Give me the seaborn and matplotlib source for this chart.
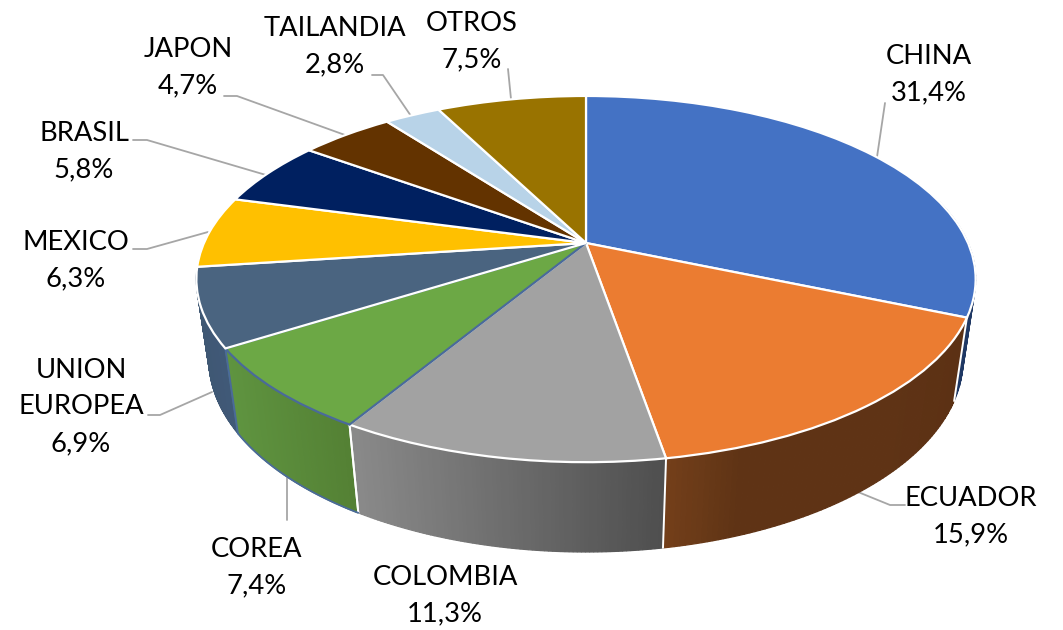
import numpy as np
import seaborn as sns
import matplotlib.pyplot as plt
import matplotlib.transforms as mtransforms
from matplotlib.colors import to_rgb

sns.set_theme(style="white")
plt.rcParams["font.family"] = ["Lato", "DejaVu Sans"]

paises = ["CHINA", "ECUADOR", "COLOMBIA", "COREA", "UNION\nEUROPEA", "MEXICO", "BRASIL", "JAPON", "TAILANDIA", "OTROS"]
valores = [31.4, 15.9, 11.3, 7.4, 6.9, 6.3, 5.8, 4.7, 2.8, 7.5]
colores = ["#4472C4", "#EB7C31", "#A2A2A2", "#6CA845", "#4A6480", "#FFC000", "#002060", "#633300", "#B8D3E8", "#997300"]

# side wall colours, left to right
paredes = {0: ["#1f3864", "#1f3864"], 1: ["#74401a", "#5f3315", "#5f3315", "#5f3315", "#5c3114"],
           2: ["#8a8a8a", "#4e4e4e"], 3: ["#5f9440", "#537f33"], 4: ["#3f5873", "#41597a"]}

# label centres and leader lines, in pixels
pos_etiquetas = [(929, 75), (971, 517), (445, 596), (257, 568), (81, 407), (76, 261), (84, 152), (188, 68), (335, 47), (472, 42)]
lineas = [[(885, 103), (877, 157)], [(905, 505), (890, 505), (858, 492)], [], [(287, 478), (287, 520)],
          [(148, 415), (160, 415), (212, 392)], [(133, 249), (147, 249), (208, 232)],
          [(133, 140), (147, 140), (266, 175)], [(224, 96), (237, 96), (345, 135)],
          [(372, 75), (383, 75), (411, 116)], [(508, 69), (511, 99)]]

# perspective of the tilted disc
CX, CY = 586, 243
A, B, K = 382, 176, 0.197
M, D = 0.032, 82


def proyectar(x, y, z=0.0):
    w = 1 + K * y + M * z
    return CX + A * x / w, CY - (B * y - D * z) / w


class Inclinar(mtransforms.Transform):
    input_dims = 2
    output_dims = 2

    def transform_non_affine(self, xy):
        xy = np.asarray(xy, dtype=float)
        px, py = proyectar(xy[:, 0], xy[:, 1])
        return np.column_stack([px, py])


fig, ax = plt.subplots(figsize=(10.63, 6.3), dpi=100)
fig.subplots_adjust(0, 0, 1, 1)
fig.patch.set_facecolor("white")

wedges, _ = ax.pie(valores, colors=sns.color_palette(colores), startangle=90, counterclock=False,
                   wedgeprops=dict(edgecolor="white", linewidth=1.6))
ax.set_aspect("auto")
ax.set_xlim(0, 1063)
ax.set_ylim(630, 0)
ax.axis("off")

tr = Inclinar() + ax.transData
for w in wedges:
    w.set_transform(tr)
    w.set_zorder(5)
wedges[3].set_edgecolor("#4a6a9a")


def pared(i, zorder):
    w = wedges[i]
    t1, t2 = sorted([w.theta1, w.theta2])
    ang = np.radians(np.linspace(t1, t2, 80))
    # only the part of the rim facing the viewer
    if i == 0:
        ang = ang[(np.cos(ang) > 0) & (np.sin(ang) < 0.25)]
    if i == 4:
        ang = ang[np.sin(ang) < -0.1]
    xa, ya = proyectar(np.cos(ang), np.sin(ang))
    xb, yb = proyectar(np.cos(ang), np.sin(ang), 1.0)
    stops = np.array([to_rgb(c) for c in paredes[i]])
    pos = np.linspace(0, 1, len(stops))
    xmin, xmax = min(xa.min(), xb.min()), max(xa.max(), xb.max())
    for j in range(len(ang) - 1):
        f = (xa[j] - xmin) / (xmax - xmin)
        c = [np.interp(f, pos, stops[:, k]) for k in range(3)]
        ax.fill([xa[j], xa[j + 1], xb[j + 1], xb[j]], [ya[j], ya[j + 1], yb[j + 1], yb[j]],
                color=c, lw=0.9, zorder=zorder)
    return ang


angulos = {i: pared(i, z) for i, z in [(0, 2), (4, 2), (1, 3), (2, 3), (3, 3)]}


def arista(t, color):
    a = np.radians(t)
    p, q = proyectar(np.cos(a), np.sin(a)), proyectar(np.cos(a), np.sin(a), 1.0)
    ax.plot([p[0], q[0]], [p[1], q[1]], color=color, lw=1.4, zorder=4)


# vertical edges and bottom rim of the walls
t_bajo = [min(wedges[i].theta1, wedges[i].theta2) for i in range(4)]
arista(t_bajo[0], "white")
arista(t_bajo[1], "white")
arista(t_bajo[2], "white")
arista(t_bajo[3], "#4a6a9a")
arista(max(wedges[3].theta1, wedges[3].theta2), "white")
ang = angulos[3]
ax.plot(*proyectar(np.cos(ang), np.sin(ang), 1.0), color="#4a6a9a", lw=1.3, zorder=4)

for linea in lineas:
    if linea:
        ax.plot(*zip(*linea), color="#a6a6a6", lw=1.3, zorder=1)

for nombre, valor, (px, py) in zip(paises, valores, pos_etiquetas):
    texto = nombre + "\n" + f"{valor:.1f}%".replace(".", ",")
    ax.text(px, py, texto, ha="center", va="center", fontsize=19.7, color="black", linespacing=1.57, zorder=6)

fig.savefig("out.png", dpi=100)
